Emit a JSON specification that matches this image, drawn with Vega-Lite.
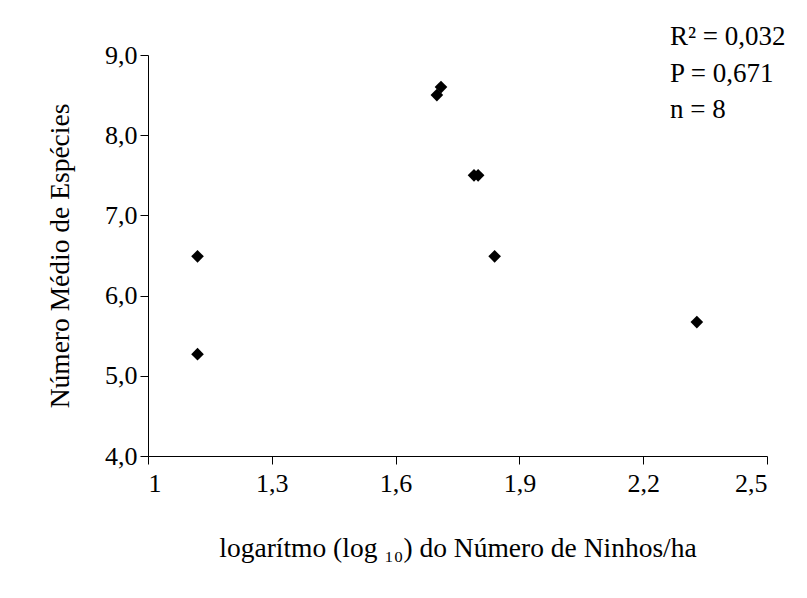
{
  "$schema": "https://vega.github.io/schema/vega-lite/v6.json",
  "autosize": "none",
  "width": 619,
  "height": 401,
  "padding": {"left": 148, "top": 55, "right": 40, "bottom": 142},
  "background": "white",
  "config": {
    "view": {"stroke": null},
    "font": "Times New Roman, Liberation Serif, serif",
    "axis": {
      "grid": false,
      "domainColor": "black",
      "tickColor": "black",
      "labelColor": "black",
      "titleColor": "black",
      "labelFont": "Times New Roman, Liberation Serif, serif",
      "titleFont": "Times New Roman, Liberation Serif, serif",
      "labelFontSize": 26,
      "titleFontSize": 27.5,
      "titleFontWeight": "normal",
      "tickSize": 8
    }
  },
  "title": {
    "text": ["R² = 0,032", "P = 0,671", "n  = 8"],
    "orient": "top",
    "anchor": "start",
    "frame": "group",
    "align": "left",
    "dx": 522,
    "offset": -82,
    "fontSize": 27,
    "fontWeight": "normal",
    "font": "Times New Roman, Liberation Serif, serif",
    "color": "black",
    "lineHeight": 36.5
  },
  "data": {
    "values": [
      {"ninhos": 1.12, "especies": 6.49},
      {"ninhos": 1.12, "especies": 5.27},
      {"ninhos": 1.70, "especies": 8.5},
      {"ninhos": 1.71, "especies": 8.6},
      {"ninhos": 1.79, "especies": 7.5},
      {"ninhos": 1.80, "especies": 7.5},
      {"ninhos": 1.84, "especies": 6.49},
      {"ninhos": 2.33, "especies": 5.67}
    ]
  },
  "mark": {"type": "point", "shape": "diamond", "filled": true, "color": "black", "opacity": 1, "size": 160},
  "encoding": {
    "x": {
      "field": "ninhos",
      "type": "quantitative",
      "scale": {"domain": [1, 2.5], "nice": false, "zero": false},
      "axis": {
        "values": [1, 1.3, 1.6, 1.9, 2.2, 2.5],
        "labelExpr": "replace(format(datum.value, '.1~f'), '.', ',')",
        "labelPadding": 6,
        "title": "logarítmo (log ₁₀) do Número de Ninhos/ha",
        "titlePadding": 38
      }
    },
    "y": {
      "field": "especies",
      "type": "quantitative",
      "scale": {"domain": [4, 9], "nice": false, "zero": false},
      "axis": {
        "values": [4, 5, 6, 7, 8, 9],
        "labelExpr": "replace(format(datum.value, '.1f'), '.', ',')",
        "labelPadding": 3,
        "title": "Número Médio de Espécies",
        "titlePadding": 30
      }
    }
  }
}
